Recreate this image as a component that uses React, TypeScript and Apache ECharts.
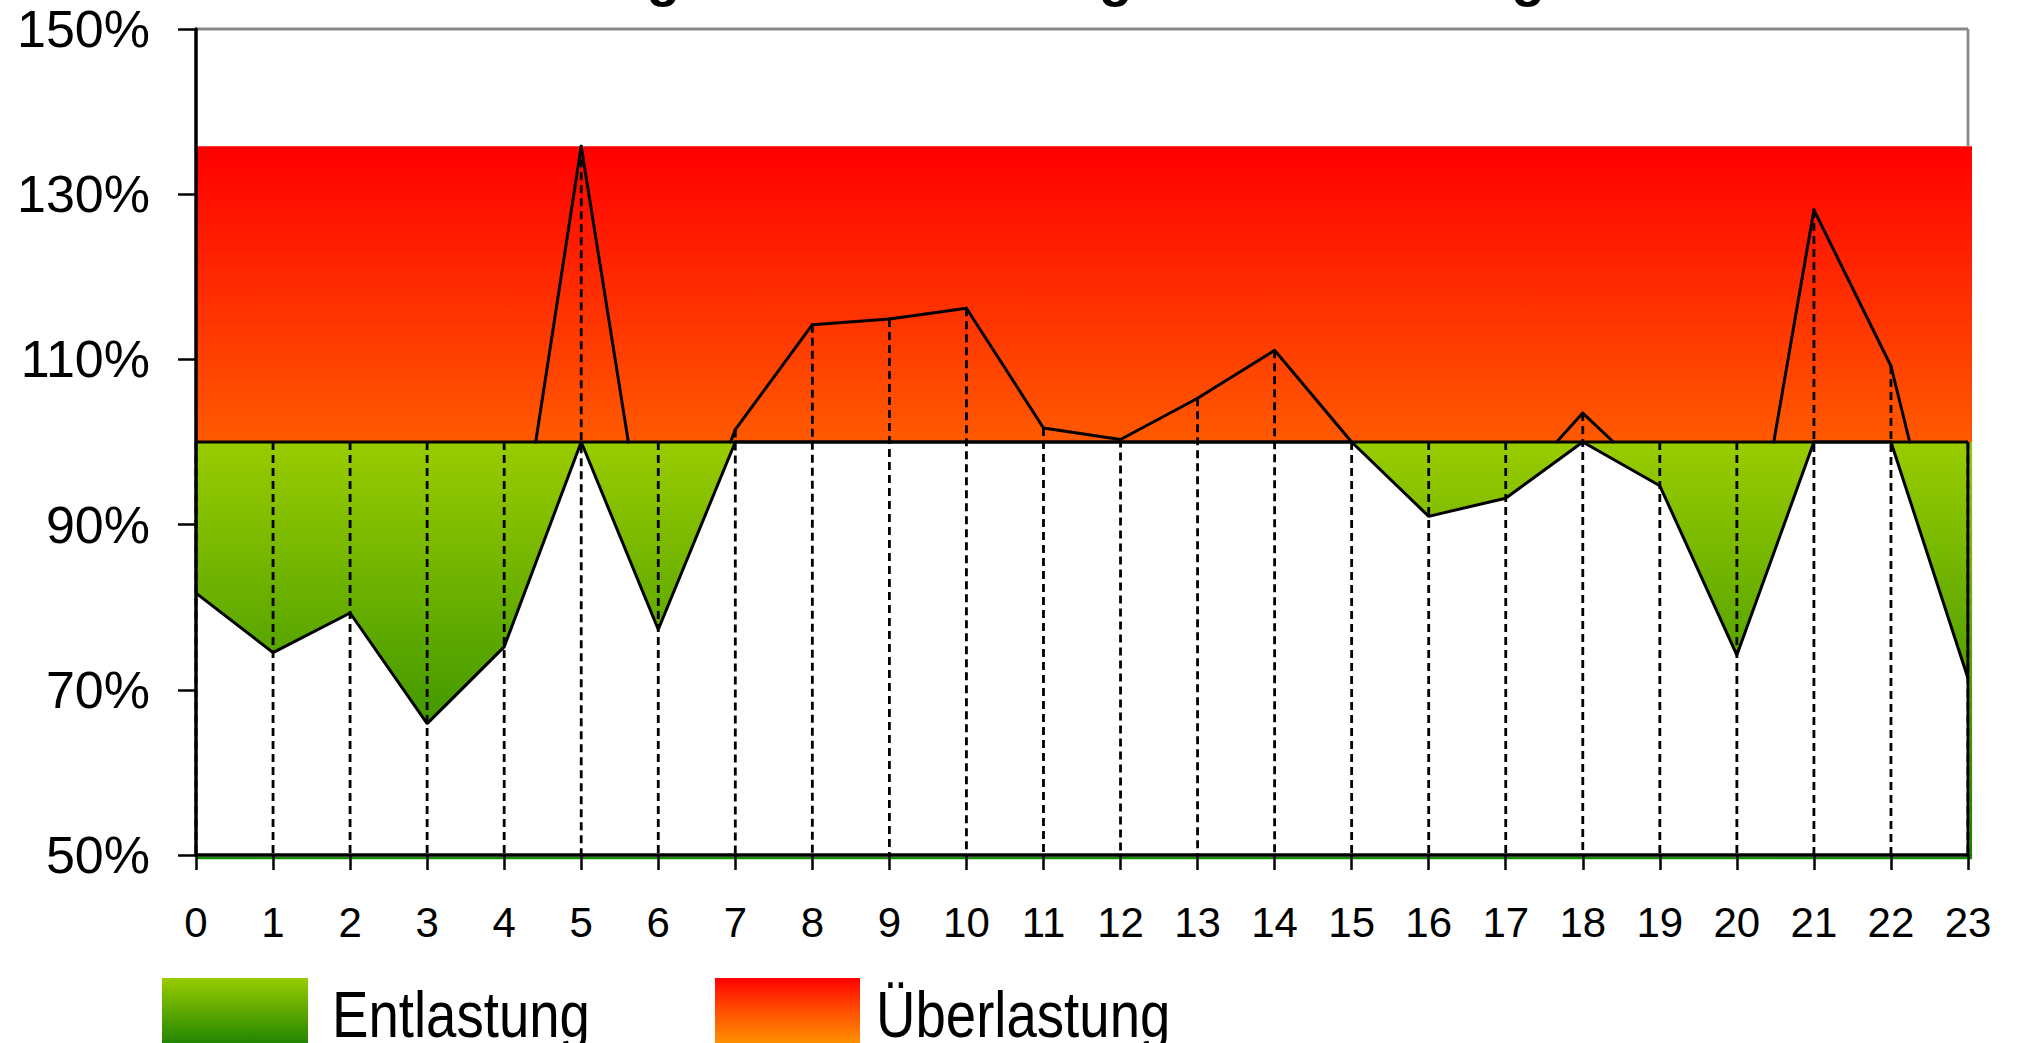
import React, { useEffect, useRef } from "react";
import * as echarts from "echarts";

// Hour-of-day categories
const hours = ["0", "1", "2", "3", "4", "5", "6", "7", "8", "9", "10", "11", "12", "13", "14", "15", "16", "17", "18", "19", "20", "21", "22", "23"];

// Load relative to rated capacity, in percent
const load = [81.7, 74.5, 79.3, 65.9, 75.2, 135.8, 77.3, 101.5, 114.2, 114.9, 116.2, 101.7, 100.3, 105.3, 111.1, 100.0, 91.0, 93.2, 103.5, 94.7, 74.2, 128.1, 109.2, 71.4];

const yTicks = [50, 70, 90, 110, 130, 150];
const threshold = 100;
const legendNames = ["Entlastung", "Überlastung"];
const titleText = "Entlastung und Überlastung der Netzleitung";

// Layout (pixels)
const W = 2020;
const H = 1043;
const PLOT_LEFT = 196;
const PLOT_RIGHT = 1968;
const PLOT_TOP = 29;
const PLOT_BOTTOM = 855;
const FONT = '"Liberation Sans", Arial, sans-serif';
const LINE_W = 3;

export default function App() {
  const ref = useRef<HTMLDivElement>(null);

  useEffect(() => {
    if (!ref.current) return;
    const chart = echarts.init(ref.current, undefined, { renderer: "svg" });

    const yMin = yTicks[0];
    const yMax = yTicks[yTicks.length - 1];
    const yStep = yTicks[1] - yTicks[0];
    const yPx = (v: number) => PLOT_TOP + ((yMax - v) / (yMax - yMin)) * (PLOT_BOTTOM - PLOT_TOP);
    const maxLoad = Math.max(...load);
    const last = hours.length - 1;

    const baseData = load.map((v) => Math.min(v, threshold));
    const reliefData = load.map((v) => threshold - Math.min(v, threshold));
    const pointData = load.map((v, i) => [i, v]);
    // one item per hour-to-hour segment: [start index, start value, end value]
    const segmentData = load.slice(0, -1).map((v, i) => [i, v, load[i + 1]]);

    const greenStops = [
      { offset: 0, color: "#99cc00" },
      { offset: 1, color: "#1a8000" },
    ];
    const greenFill = new echarts.graphic.LinearGradient(0, yPx(threshold), 0, yPx(yMin), greenStops, true);
    const greenRim = new echarts.graphic.LinearGradient(0, yPx(threshold), 0, yPx(yMin), greenStops, true);
    const redBand = new echarts.graphic.LinearGradient(0, 0, 0, 1, [
      { offset: 0, color: "#ff0000" },
      { offset: 1, color: "#ff5a00" },
    ]);

    chart.setOption({
      animation: false,
      backgroundColor: "#fff",
      textStyle: { fontFamily: FONT },
      grid: {
        left: PLOT_LEFT,
        right: W - PLOT_RIGHT,
        top: PLOT_TOP,
        bottom: H - PLOT_BOTTOM,
        containLabel: false,
      },
      xAxis: {
        type: "category",
        data: hours,
        boundaryGap: false,
        axisLine: { show: true, lineStyle: { color: "#000", width: 3.5 } },
        axisTick: { show: true, length: 15, interval: 0, lineStyle: { color: "#000", width: 2.5 } },
        axisLabel: { interval: 0, color: "#000", fontSize: 42, fontFamily: FONT, margin: 46 },
        splitLine: { show: false },
        z: 6,
      },
      yAxis: {
        type: "value",
        min: yMin,
        max: yMax,
        interval: yStep,
        axisLine: { show: true, lineStyle: { color: "#000", width: 3.5 } },
        axisTick: { show: true, length: 18, lineStyle: { color: "#000", width: 2.5 } },
        axisLabel: {
          formatter: "{value}%",
          color: "#000",
          fontSize: 52,
          fontFamily: FONT,
          margin: 46,
        },
        splitLine: { show: false },
        z: 6,
      },
      series: [
        {
          // overload band: from the threshold up to the day's peak
          type: "custom",
          silent: true,
          z: 1,
          data: [[0, last, threshold, maxLoad]],
          renderItem: (params: any, api: any) => {
            const p0 = api.coord([api.value(0), api.value(3)]);
            const p1 = api.coord([api.value(1), api.value(2)]);
            return {
              type: "rect",
              shape: { x: p0[0], y: p0[1], width: p1[0] - p0[0] + 4, height: p1[1] - p0[1] },
              style: { fill: redBand },
            };
          },
        },
        {
          // lower outline of the relief area
          name: "base",
          type: "line",
          stack: "load",
          data: baseData,
          showSymbol: false,
          silent: true,
          lineStyle: { color: "#000", width: LINE_W },
          z: 4,
        },
        {
          name: legendNames[0],
          type: "line",
          stack: "load",
          data: reliefData,
          showSymbol: false,
          silent: true,
          lineStyle: { color: "#000", width: LINE_W },
          areaStyle: { color: greenFill, opacity: 1 },
          z: 2,
        },
        {
          // dashed drop lines from the curve (or the threshold) down to the axis
          type: "custom",
          silent: true,
          z: 3,
          data: pointData,
          renderItem: (params: any, api: any) => {
            const x = api.value(0);
            const top = api.coord([x, Math.max(api.value(1), threshold)]);
            const bottom = api.coord([x, yMin]);
            return {
              type: "line",
              shape: { x1: top[0], y1: top[1], x2: bottom[0], y2: bottom[1] },
              style: { stroke: "#000", lineWidth: 2.8, lineDash: [8, 5] },
            };
          },
        },
        {
          // plot frame: grey top and right edge, black closing edge of the areas,
          // green rims along the baseline and the right edge
          type: "custom",
          silent: true,
          z: 4,
          data: [[last, maxLoad]],
          renderItem: (params: any, api: any) => {
            const xi = api.value(0);
            const tl = api.coord([0, yMax]);
            const tr = api.coord([xi, yMax]);
            const bandTop = api.coord([xi, api.value(1)]);
            const edgeTop = api.coord([xi, threshold]);
            const br = api.coord([xi, yMin]);
            const bl = api.coord([0, yMin]);
            const grey = { stroke: "#888", lineWidth: 2.8 };
            return {
              type: "group",
              children: [
                { type: "line", shape: { x1: tl[0], y1: tl[1], x2: tr[0], y2: tr[1] }, style: grey },
                { type: "line", shape: { x1: tr[0], y1: tr[1], x2: bandTop[0], y2: bandTop[1] }, style: grey },
                {
                  type: "line",
                  shape: { x1: edgeTop[0] + 2.8, y1: edgeTop[1], x2: br[0] + 2.8, y2: br[1] + 4 },
                  style: { stroke: greenRim, lineWidth: 2.6 },
                },
                {
                  type: "line",
                  shape: { x1: edgeTop[0], y1: edgeTop[1], x2: br[0], y2: br[1] },
                  style: { stroke: "#000", lineWidth: LINE_W },
                },
                {
                  type: "line",
                  shape: { x1: bl[0], y1: bl[1] + 3, x2: br[0] + 4, y2: br[1] + 3 },
                  style: { stroke: "#119000", lineWidth: 2.6 },
                },
              ],
            };
          },
        },
        {
          // load curve, drawn only where it runs above the threshold
          name: legendNames[1],
          type: "custom",
          silent: true,
          z: 5,
          data: segmentData,
          renderItem: (params: any, api: any) => {
            const i = api.value(0);
            const a = api.value(1);
            const b = api.value(2);
            const pa = api.coord([i, a]);
            const pb = api.coord([i + 1, b]);
            if (a <= threshold && b <= threshold) return null;
            let s = pa;
            let e = pb;
            if (a < threshold) {
              const t = (threshold - a) / (b - a);
              s = [pa[0] + t * (pb[0] - pa[0]), pa[1] + t * (pb[1] - pa[1])];
            } else if (b < threshold) {
              const t = (a - threshold) / (a - b);
              e = [pa[0] + t * (pb[0] - pa[0]), pa[1] + t * (pb[1] - pa[1])];
            }
            return {
              type: "line",
              shape: { x1: s[0], y1: s[1], x2: e[0], y2: e[1] },
              style: { stroke: "#000", lineWidth: LINE_W, lineCap: "round" },
            };
          },
        },
      ],
      graphic: [
        {
          type: "text",
          x: 396,
          y: -24,
          silent: true,
          style: {
            text: titleText,
            font: `bold 55px ${FONT}`,
            fill: "#000",
            align: "left",
            verticalAlign: "middle",
          },
        },
        {
          type: "rect",
          silent: true,
          shape: { x: 162, y: 978, width: 146, height: 70 },
          style: {
            fill: new echarts.graphic.LinearGradient(0, 0, 0, 1, [
              { offset: 0, color: "#99cc00" },
              { offset: 1, color: "#1a8000" },
            ]),
          },
        },
        {
          type: "text",
          x: 332,
          y: 1015,
          scaleX: 0.84,
          silent: true,
          style: {
            text: legendNames[0],
            font: `65px ${FONT}`,
            fill: "#000",
            align: "left",
            verticalAlign: "middle",
          },
        },
        {
          type: "rect",
          silent: true,
          shape: { x: 715, y: 978, width: 145, height: 70 },
          style: {
            fill: new echarts.graphic.LinearGradient(0, 0, 0, 1, [
              { offset: 0, color: "#ff0000" },
              { offset: 0.5, color: "#ff5500" },
              { offset: 1, color: "#ff9900" },
            ]),
          },
        },
        {
          type: "text",
          x: 876,
          y: 1015,
          scaleX: 0.84,
          silent: true,
          style: {
            text: legendNames[1],
            font: `65px ${FONT}`,
            fill: "#000",
            align: "left",
            verticalAlign: "middle",
          },
        },
      ],
    });

    return () => chart.dispose();
  }, []);

  return (
    <div
      ref={ref}
      style={{ position: "fixed", left: 0, top: 0, width: W, height: H, background: "#fff" }}
    />
  );
}
